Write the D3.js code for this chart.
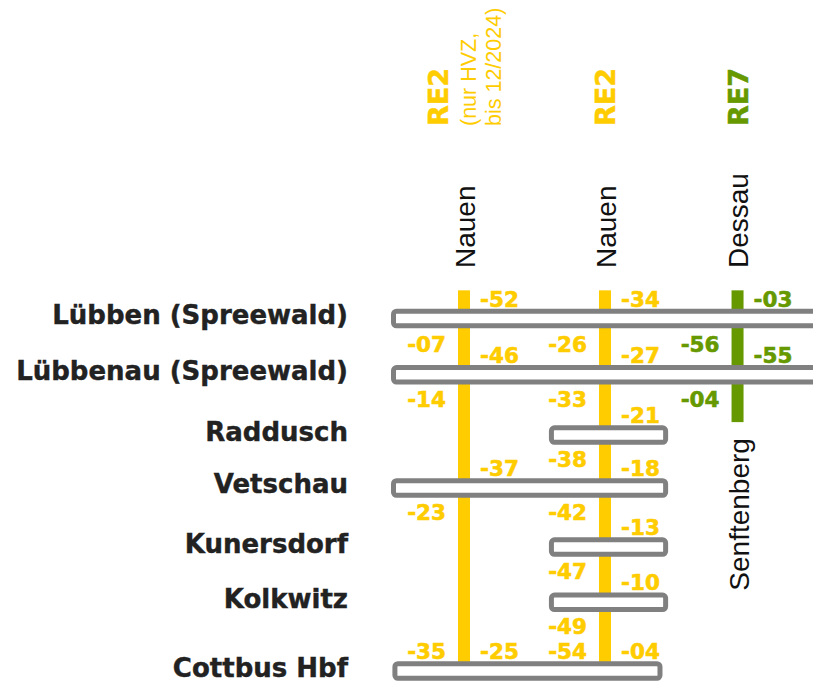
<!DOCTYPE html>
<html>
<head>
<meta charset="utf-8">
<script src="https://cdn.jsdelivr.net/npm/d3@7"></script>
<style>
  html, body { margin: 0; padding: 0; background: #fff; }
  svg { display: block; }
</style>
</head>
<body>
<svg id="chart" width="813" height="683"></svg>
<script>
// ---------- data ----------
const stations = ["Lübben (Spreewald)", "Lübbenau (Spreewald)", "Raddusch", "Vetschau", "Kunersdorf", "Kolkwitz", "Cottbus Hbf"];
// schematic position of each station along the line (diagram units)
const stationPos = [0, 1, 2.07, 3.01, 4.06, 5.04, 6.26];
// which part of the line columns each station box covers (column units)
const stationSpan = [[-0.5, 2.7], [-0.5, 2.7], [0.62, 1.43], [-0.5, 1.43], [0.62, 1.43], [0.62, 1.43], [-0.49, 1.39]];

const lineNames = ["RE2", "RE2", "RE7"];
const lineNotes = [["(nur HVZ,", "bis 12/2024)"], [], []];
const lineDest = ["Nauen", "Nauen", "Dessau"];
const lineColors = ["#FFCC00", "#FFCC00", "#669900"];
const lineCol = [0, 1, 1.94];
// extent of each line bar (station-position units)
const lineSpan = [[-0.5, 6.26], [-0.5, 6.26], [-0.5, 1.84]];
const lineBranch = ["", "", "Senftenberg"];

// minute labels: station index, side (R = right, above box; L = left, above box;
// La = left, above box (arrival); Lb = left, below box), minute label
const timesRE2hvz = [
  [0, "R", "-52"],
  [1, "La", "-07"], [1, "R", "-46"], [1, "Lb", "-14"],
  [3, "R", "-37"], [3, "Lb", "-23"],
  [6, "L", "-35"], [6, "R", "-25"]
];
const timesRE2 = [
  [0, "R", "-34"],
  [1, "La", "-26"], [1, "R", "-27"], [1, "Lb", "-33"],
  [2, "R", "-21"], [2, "Lb", "-38"],
  [3, "R", "-18"], [3, "Lb", "-42"],
  [4, "R", "-13"], [4, "Lb", "-47"],
  [5, "R", "-10"], [5, "Lb", "-49"],
  [6, "L", "-54"], [6, "R", "-04"]
];
const timesRE7 = [
  [0, "R", "-03"],
  [1, "La", "-56"], [1, "R", "-55"], [1, "Lb", "-04"]
];
const lineTimes = [timesRE2hvz, timesRE2, timesRE7];

// ---------- scales ----------
const svg = d3.select("#chart");
const x = d3.scaleLinear().domain([0, 1]).range([464, 605]);
const y = d3.scaleLinear().domain([0, 6.26]).range([318.5, 671]);

const boldFont = "'DejaVu Sans', Verdana, sans-serif";
const regFont = "'Liberation Sans', Arial, sans-serif";

// ---------- line bars ----------
const lines = lineNames.map((n, i) => ({
  i, name: n, note: lineNotes[i], dest: lineDest[i], color: lineColors[i],
  col: lineCol[i], span: lineSpan[i], times: lineTimes[i], branch: lineBranch[i]
}));

svg.append("g").selectAll("rect").data(lines).join("rect")
  .attr("x", d => x(d.col) - 6)
  .attr("width", 12)
  .attr("y", d => y(d.span[0]))
  .attr("height", d => y(d.span[1]) - y(d.span[0]))
  .attr("fill", d => d.color);

// ---------- station boxes ----------
const st = stations.map((s, i) => ({ name: s, pos: stationPos[i], span: stationSpan[i] }));

svg.append("g").selectAll("rect").data(st).join("rect")
  .attr("x", d => x(d.span[0]))
  .attr("width", d => x(d.span[1]) - x(d.span[0]))
  .attr("y", d => y(d.pos) - 7.25)
  .attr("height", 14.5)
  .attr("rx", 3)
  .attr("fill", "#fff")
  .attr("stroke", "#808080")
  .attr("stroke-width", 5);

// station labels
svg.append("g").selectAll("text").data(st).join("text")
  .attr("x", 348)
  .attr("y", d => y(d.pos) + 5.5)
  .attr("text-anchor", "end")
  .attr("font-family", boldFont)
  .attr("font-weight", "bold")
  .attr("font-size", 26)
  .attr("fill", "#222")
  .attr("stroke", "#222")
  .attr("stroke-width", 0.4)
  .text(d => d.name);

// ---------- minute labels ----------
const offY = { R: -12, L: -12, La: -22.5, Lb: 32 };
lines.forEach(l => {
  svg.append("g").selectAll("text").data(l.times).join("text")
    .attr("x", d => d[1] === "R" ? x(l.col) + 16 : x(l.col) - 18)
    .attr("y", d => y(stationPos[d[0]]) + offY[d[1]])
    .attr("text-anchor", d => d[1] === "R" ? "start" : "end")
    .attr("font-family", boldFont)
    .attr("font-weight", "bold")
    .attr("font-size", 21.5)
    .attr("fill", l.color)
    .attr("stroke", l.color)
    .attr("stroke-width", 0.6)
    .text(d => d[2]);
});

// ---------- headers ----------
lines.forEach(l => {
  const cx = x(l.col);
  const hasNote = l.note.length > 0;
  const nameX = hasNote ? cx - 16 : cx + 10;
  svg.append("text")
    .attr("transform", `translate(${nameX},126) rotate(-90)`)
    .attr("font-family", boldFont)
    .attr("font-weight", "bold")
    .attr("font-size", 27)
    .attr("fill", l.color)
    .attr("stroke", l.color)
    .attr("stroke-width", 0.5)
    .text(l.name);
  l.note.forEach((t, k) => {
    svg.append("text")
      .attr("transform", `translate(${cx + 12 + k * 25},126) rotate(-90)`)
      .attr("font-family", regFont)
      .attr("font-size", 21.5)
      .attr("fill", l.color)
      .text(t);
  });
  svg.append("text")
    .attr("transform", `translate(${cx + 10.5},268) rotate(-90)`)
    .attr("font-family", regFont)
    .attr("font-size", 28)
    .attr("fill", "#111")
    .text(l.dest);
  if (l.branch) {
    svg.append("text")
      .attr("transform", `translate(${cx + 11},${y(l.span[1]) + 16}) rotate(-90)`)
      .attr("text-anchor", "end")
      .attr("font-family", regFont)
      .attr("font-size", 28)
      .attr("fill", "#111")
      .text(l.branch);
  }
});
</script>
</body>
</html>
